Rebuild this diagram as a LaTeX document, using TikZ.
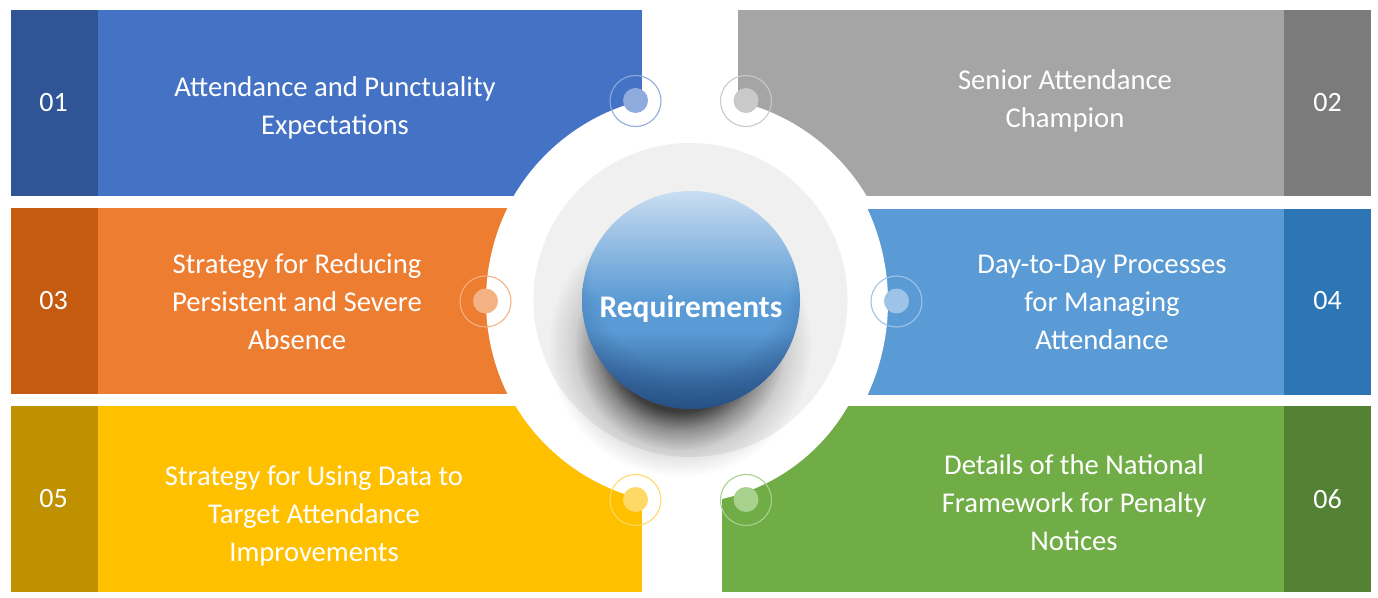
\documentclass[tikz,border=0pt]{standalone}
\usepackage{fontspec}
\setmainfont{Carlito}
\usetikzlibrary{fadings}
\definecolor{cA}{HTML}{4472C4}\definecolor{dA}{HTML}{2F5597}\definecolor{lA}{HTML}{8FAADC}
\definecolor{cB}{HTML}{A5A5A5}\definecolor{dB}{HTML}{7B7B7B}\definecolor{lB}{HTML}{C9C9C9}
\definecolor{cC}{HTML}{ED7D31}\definecolor{dC}{HTML}{C55A11}\definecolor{lC}{HTML}{F4B183}
\definecolor{cD}{HTML}{5B9BD5}\definecolor{dD}{HTML}{2E75B6}\definecolor{lD}{HTML}{9DC3E6}
\definecolor{cE}{HTML}{FFC000}\definecolor{dE}{HTML}{BF9000}\definecolor{lE}{HTML}{FFD966}
\definecolor{cF}{HTML}{70AD47}\definecolor{dF}{HTML}{548235}\definecolor{lF}{HTML}{A9D18E}
\definecolor{ringgray}{HTML}{F0F0F0}
\definecolor{sphereBot}{HTML}{28598C}
\definecolor{sphereLow}{HTML}{3A6FA6}
\definecolor{sphereUp}{HTML}{9CC2E5}
\definecolor{sphereTop}{HTML}{C9DEF2}
\pgfdeclareverticalshading{spherefill}{100bp}{
  color(0bp)=(sphereBot); color(25bp)=(sphereBot); color(32bp)=(sphereLow); color(43bp)=(cD); color(50bp)=(cD);
  color(65bp)=(sphereUp); color(75bp)=(sphereTop); color(100bp)=(sphereTop)}
\pgfdeclareradialshading{edgeshade}{\pgfpoint{0bp}{0bp}}{
  color(0bp)=(transparent!100); color(17bp)=(transparent!100); color(25bp)=(transparent!55); color(50bp)=(transparent!55)}
\pgfdeclarefading{edgefade}{\pgfuseshading{edgeshade}}
\pgfdeclareradialshading{softshadow}{\pgfpoint{0bp}{0bp}}{
  color(0bp)=(transparent!0); color(12.5bp)=(transparent!0); color(16bp)=(transparent!45);
  color(20bp)=(transparent!82); color(25bp)=(transparent!100); color(50bp)=(transparent!100)}
\pgfdeclarefading{shadowfade}{\pgfuseshading{softshadow}}
\tikzset{
  x=0.75pt,y=-0.75pt,
  panel/.style={fill=#1,draw=none},
  ringdot/.style={circle,minimum size=25*0.75pt,inner sep=0pt,fill=#1,draw=none},
  halo/.style={circle,minimum size=51*0.75pt,inner sep=0pt,draw=#1,line width=0.8pt,fill=none},
  label/.style={text=white,align=center,font=\fontsize{21.5}{28.5}\selectfont},
  num/.style={text=white,font=\fontsize{21}{25}\selectfont}
}
\begin{document}
\begin{tikzpicture}
\useasboundingbox (0,0) rectangle (1378,598);
\fill[white] (0,0) rectangle (1378,598);
% panels, each with its own arc cut out
\begin{scope}
\clip (11,10) rectangle (642,196);
\fill[panel=cA] (11,10) rectangle (642,196);
\fill[panel=dA] (11,10) rectangle (98,196);
\fill[white] (691,300) circle[radius=205.5*0.75pt];
\end{scope}
\begin{scope}
\clip (738,10) rectangle (1371,196);
\fill[panel=cB] (738,10) rectangle (1371,196);
\fill[panel=dB] (1284,10) rectangle (1371,196);
\fill[white] (691,300) circle[radius=204*0.75pt];
\end{scope}
\begin{scope}
\clip (11,208) rectangle (642,394);
\fill[panel=cC] (11,208) rectangle (642,394);
\fill[panel=dC] (11,208) rectangle (98,394);
\fill[white] (698,301) circle[radius=212*0.75pt];
\end{scope}
\begin{scope}
\clip (738,209) rectangle (1371,395);
\fill[panel=cD] (738,209) rectangle (1371,395);
\fill[panel=dD] (1284,209) rectangle (1371,395);
\fill[white] (667,302) circle[radius=221*0.75pt];
\end{scope}
\begin{scope}
\clip (11,406) rectangle (642,592);
\fill[panel=cE] (11,406) rectangle (642,592);
\fill[panel=dE] (11,406) rectangle (98,592);
\fill[white] (691,300) circle[radius=205*0.75pt];
\end{scope}
\begin{scope}
\clip (722,406) rectangle (1371,592);
\fill[panel=cF] (722,406) rectangle (1371,592);
\fill[panel=dF] (1284,406) rectangle (1371,592);
\fill[white] (680,310) circle[radius=193.5*0.75pt];
\end{scope}
% central disc
\fill[ringgray] (690.5,300) circle[radius=157*0.75pt];
% shadow
\fill[black,path fading=shadowfade,fill opacity=0.75] (680,345) circle[radius=132*0.75pt];
% sphere
\begin{scope}
\clip (691,300) circle[radius=109*0.75pt];
\shade[shading=spherefill] (582,191) rectangle (800,409);
\fill[dA!80!black,path fading=edgefade] (691,270) circle[radius=145*0.75pt];
\end{scope}
\node[text=white,font=\fontsize{23.6}{28}\selectfont\bfseries] (hub) at (691,309) {Requirements};
% dots
\foreach \nm/\px/\py/\hy/\cc in {a/635.5/100.5/101/lA,b/746/100.5/101/lB,c/485.5/301/301.5/lC,d/896.5/301/301.5/lD,e/635.5/499.5/500/lE,f/746/499.5/500/lF}{
  \node[ringdot=\cc] (dot\nm) at (\px,\py) {};
  \node[halo=\cc] (halo\nm) at (\px,\hy) {};
}
% numbers
\node[num] (n1) at (53.5,103) {01};
\node[num] (n2) at (1327.5,103) {02};
\node[num] (n3) at (53.5,301) {03};
\node[num] (n4) at (1327.5,301) {04};
\node[num] (n5) at (53.5,499) {05};
\node[num] (n6) at (1327.5,499) {06};
% labels
\node[label] (t1) at (335,108) {Attendance and Punctuality\\Expectations};
\node[label] (t2) at (1065,101) {Senior Attendance\\Champion};
\node[label] (t3) at (297,302) {Strategy for Reducing\\Persistent and Severe\\Absence};
\node[label] (t4) at (1102,302) {Day-to-Day Processes\\for Managing\\Attendance};
\node[label] (t5) at (314,516) {Strategy for Using Data to\\Target Attendance\\Improvements};
\node[label] (t6) at (1074,503) {Details of the National\\Framework for Penalty\\Notices};
\end{tikzpicture}
\end{document}
